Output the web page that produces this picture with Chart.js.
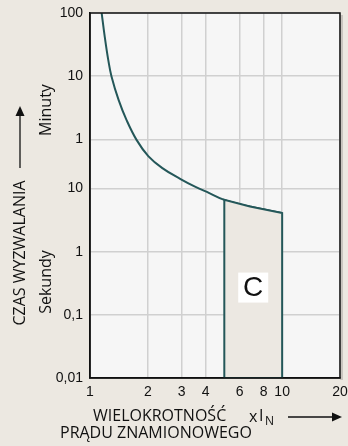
<!DOCTYPE html>
<html>
<head>
<meta charset="utf-8">
<script src="https://cdn.jsdelivr.net/npm/chart.js@4"></script>
<style>
  html, body { margin: 0; padding: 0; background: #ece8e1; }
  #wrap { width: 348px; height: 446px; }
</style>
</head>
<body>
<div id="wrap"><canvas id="curveChart" width="348" height="446"></canvas></div>
<script>
// tripping curve, C characteristic (x = multiple of In, y = seconds)
const curveX = [1.15, 1.194, 1.245, 1.293, 1.41, 1.55, 1.75, 2.01, 2.38, 2.96, 3.54, 4.18, 5, 6.8, 10];
const curveT = [6000, 2490, 1076, 600, 250, 121, 58.3, 32.6, 21, 14.1, 10.6, 8.46, 6.6, 5.17, 4.08];

// C band (from 5x to 10x In, down to 0.01 s)
const bandX = [5, 5, 6.8, 10, 10, 5];
const bandT = [0.01, 6.6, 5.17, 4.08, 0.01, 0.01];

const xTicks = [1, 2, 3, 4, 6, 8, 10, 20];
const yTicks = [0.01, 0.1, 1, 10, 60, 600, 6000];
const yTickLabels = ['0,01', '0,1', '1', '10', '1', '10', '100'];

const teal = '#245759';

const decor = {
    id: 'decor',
    beforeDraw(chart) {
        const { ctx, chartArea: a } = chart;
        ctx.save();
        ctx.fillStyle = '#c9c5bf';
        ctx.fillRect(a.right, a.top + 2, 3, a.bottom - a.top);
        ctx.fillStyle = '#f6f6f6';
        ctx.fillRect(a.left, a.top, a.right - a.left, a.bottom - a.top);
        ctx.restore();
    },
    afterDraw(chart) {
        const { ctx, chartArea: a } = chart;
        const xs = chart.scales.x, ys = chart.scales.y;
        ctx.save();
        // frame
        ctx.strokeStyle = '#111';
        ctx.lineWidth = 1.5;
        ctx.strokeRect(a.left, a.top, a.right - a.left, a.bottom - a.top);

        // C label
        const cx = xs.getPixelForValue(7.07), cy = ys.getPixelForValue(0.27);
        ctx.fillStyle = '#ffffff';
        ctx.fillRect(cx - 15, cy - 15, 30, 30);
        ctx.fillStyle = '#111';
        ctx.font = '28px "Liberation Sans", Arial, sans-serif';
        ctx.textAlign = 'center';
        ctx.textBaseline = 'middle';
        ctx.fillText('C', cx, cy + 1);

        // y titles
        ctx.font = '16px "Open Sans", sans-serif';
        ctx.fillStyle = '#111';
        const rot = (txt, x, y) => {
            ctx.save();
            ctx.translate(x, y);
            ctx.rotate(-Math.PI / 2);
            ctx.fillText(txt, 0, 0);
            ctx.restore();
        };
        rot('CZAS WYZWALANIA', 20, 253);
        rot('Minuty', 46, 110);
        rot('Sekundy', 46, 282);
        // y arrow
        ctx.strokeStyle = '#111';
        ctx.lineWidth = 1.3;
        ctx.beginPath();
        ctx.moveTo(20, 168); ctx.lineTo(20, 114);
        ctx.stroke();
        ctx.beginPath();
        ctx.moveTo(20, 106); ctx.lineTo(15.5, 116); ctx.lineTo(24.5, 116);
        ctx.closePath(); ctx.fill();

        // x titles
        ctx.font = '16px "Open Sans", sans-serif';
        ctx.textAlign = 'left';
        ctx.textBaseline = 'alphabetic';
        ctx.fillText('WIELOKROTNOŚĆ', 93, 421);
        ctx.fillText('PRĄDU ZNAMIONOWEGO', 60, 438);
        ctx.fillText('x', 249, 422);
        ctx.fillText('I', 259, 421);
        ctx.font = '12px "Open Sans", sans-serif';
        ctx.fillText('N', 265, 425);
        ctx.beginPath();
        ctx.moveTo(288, 417); ctx.lineTo(333, 417);
        ctx.stroke();
        ctx.beginPath();
        ctx.moveTo(342, 417); ctx.lineTo(332, 412.5); ctx.lineTo(332, 421.5);
        ctx.closePath(); ctx.fill();
        ctx.restore();
    }
};

const ctx = document.getElementById('curveChart').getContext('2d');
const myChart = new Chart(ctx, {
    type: 'line',
    data: {
        datasets: [{
            label: 'C',
            data: bandX.map((x, i) => ({ x: x, y: bandT[i] })),
            borderColor: teal,
            backgroundColor: '#ece8e2',
            borderWidth: 2,
            fill: 'shape',
            tension: 0,
            pointRadius: 0
        }, {
            label: 'krzywa',
            data: curveX.map((x, i) => ({ x: x, y: curveT[i] })),
            borderColor: teal,
            borderWidth: 2,
            fill: false,
            tension: 0.4,
            pointRadius: 0
        }]
    },
    options: {
        responsive: false,
        animation: false,
        devicePixelRatio: 1,
        layout: { padding: { top: 13, right: 8, left: 0, bottom: 0 } },
        plugins: { legend: { display: false }, tooltip: { enabled: false } },
        scales: {
            x: {
                type: 'logarithmic',
                min: 1, max: 20,
                afterBuildTicks: (s) => { s.ticks = xTicks.map(v => ({ value: v })); },
                afterFit: (s) => { s.height = 68; s.paddingLeft = 0; s.paddingRight = 0; },
                ticks: {
                    color: '#111',
                    font: { family: '"Liberation Sans", Arial, sans-serif', size: 14 },
                    padding: 6,
                    maxRotation: 0,
                    autoSkip: false,
                    callback: (v) => String(v)
                },
                grid: { color: '#d0d0d0', lineWidth: 1.5, drawTicks: false },
                border: { color: '#111', width: 1.5 }
            },
            y: {
                type: 'logarithmic',
                min: 0.01, max: 6000,
                afterBuildTicks: (s) => { s.ticks = yTicks.map(v => ({ value: v })); },
                afterFit: (s) => { s.width = 90; s.paddingTop = 0; s.paddingBottom = 0; },
                ticks: {
                    color: '#111',
                    font: { family: '"Liberation Sans", Arial, sans-serif', size: 14 },
                    padding: 7,
                    autoSkip: false,
                    callback: function (v) {
                        const i = yTicks.indexOf(v);
                        return i >= 0 ? yTickLabels[i] : '';
                    }
                },
                grid: { color: '#d0d0d0', lineWidth: 1.5, drawTicks: false },
                border: { color: '#111', width: 1.5 }
            }
        }
    },
    plugins: [decor]
});
</script>
</body>
</html>
